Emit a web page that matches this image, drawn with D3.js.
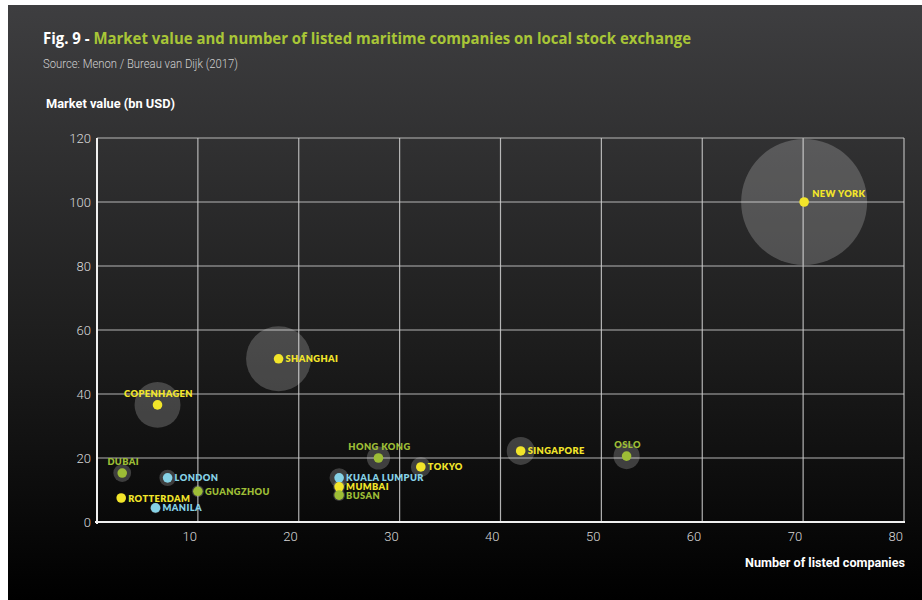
<!DOCTYPE html>
<html><head><meta charset="utf-8">
<script src="https://cdn.jsdelivr.net/npm/d3@7/dist/d3.min.js"></script>
<style>
html,body{margin:0;padding:0;background:#fff;}
svg{display:block;}
</style></head>
<body>
<svg id="chart" width="922" height="600"></svg>
<script>
// ---- data ----
const cities = ["NEW YORK","SHANGHAI","COPENHAGEN","DUBAI","LONDON","GUANGZHOU","ROTTERDAM","MANILA","HONG KONG","TOKYO","KUALA LUMPUR","MUMBAI","BUSAN","SINGAPORE","OSLO"];
const listedCompanies = [70.1, 18, 6, 2.5, 7, 10, 2.4, 5.8, 27.9, 32.1, 24, 24, 24, 42, 52.5];
const marketValue = [100, 51, 36.6, 15.3, 13.8, 9.6, 7.5, 4.4, 20, 17.2, 13.8, 11, 8.4, 22.2, 20.6];
const bubbleSize = [100, 26.6, 13.3, 2.0, 1.7, 0.9, 0.4, 0.7, 3.4, 2.5, 2.3, 0.9, 0.9, 4.9, 4.3];
const group = ["y","y","y","g","b","g","y","b","g","y","b","y","g","y","g"];
const xTicks = [10,20,30,40,50,60,70,80];
const yTicks = [0,20,40,60,80,100,120];

// ---- style ----
const colors = {y:"#f2e52a", g:"#9dbd36", b:"#86d2e6"};
const labelPlace = {"NEW YORK":"rightUp","COPENHAGEN":"above","DUBAI":"above","HONG KONG":"above","OSLO":"above"};

const svg = d3.select("#chart");
const defs = svg.append("defs");
const grad = defs.append("linearGradient").attr("id","bg").attr("x1",0).attr("y1",0).attr("x2",0).attr("y2",1);
grad.append("stop").attr("offset","0%").attr("stop-color","#3e3e40");
grad.append("stop").attr("offset","55%").attr("stop-color","#1e1e1e");
grad.append("stop").attr("offset","100%").attr("stop-color","#000000");
svg.append("rect").attr("x",8).attr("y",5).attr("width",914).attr("height",595).attr("fill","url(#bg)");

const x = d3.scaleLinear().domain([0,80]).range([97,904]);
const y = d3.scaleLinear().domain([0,120]).range([522,138]);
const r = d3.scaleSqrt().domain([0,100]).range([0,63]);

const narrow = "Roboto, 'Open Sans', sans-serif";
// title
const t = svg.append("text").attr("x",43).attr("y",44).attr("font-family","'Open Sans', sans-serif").attr("font-weight",700).attr("font-size",15.5)
  .attr("textLength",648).attr("lengthAdjust","spacingAndGlyphs");
t.append("tspan").attr("fill","#ffffff").text("Fig. 9 - ");
t.append("tspan").attr("fill","#a9c637").text("Market value and number of listed maritime companies on local stock exchange");
svg.append("text").attr("x",43).attr("y",68).attr("fill","#d0d0d0").attr("font-family",narrow).attr("font-weight",300).attr("font-size",12.5)
  .attr("textLength",195).attr("lengthAdjust","spacingAndGlyphs").text("Source: Menon / Bureau van Dijk (2017)");
svg.append("text").attr("x",46).attr("y",108).attr("fill","#ffffff").attr("font-family",narrow).attr("font-weight",700).attr("font-size",12.5)
  .attr("textLength",129).attr("lengthAdjust","spacingAndGlyphs").text("Market value (bn USD)");

// grid
const grid = svg.append("g");
grid.selectAll("line.v").data(xTicks).join("line").attr("x1",d=>x(d)).attr("x2",d=>x(d)).attr("y1",y(120)).attr("y2",y(0)).attr("stroke","#cfcfcf").attr("stroke-width",1.2).attr("stroke-opacity",0.85);
grid.selectAll("line.h").data(yTicks.filter(d=>d>0)).join("line").attr("x1",x(0)).attr("x2",x(80)).attr("y1",d=>y(d)).attr("y2",d=>y(d)).attr("stroke","#cfcfcf").attr("stroke-width",1.2).attr("stroke-opacity",0.85);
// axes lines
svg.append("line").attr("x1",x(0)-2).attr("x2",x(80)+1).attr("y1",y(0)).attr("y2",y(0)).attr("stroke","#f0f0f0").attr("stroke-width",2);
svg.append("line").attr("x1",x(0)).attr("x2",x(0)).attr("y1",y(120)).attr("y2",y(0)+2).attr("stroke","#f0f0f0").attr("stroke-width",2);

// tick labels
svg.append("g").selectAll("text").data(yTicks).join("text").attr("x",91).attr("y",d=>y(d)+4.5).attr("text-anchor","end").attr("fill","#d8d8d8").attr("font-family",narrow).attr("font-weight",300).attr("font-size",13).text(d=>d);
svg.append("g").selectAll("text").data(xTicks).join("text").attr("x",d=>x(d)-1).attr("y",541).attr("text-anchor","end").attr("fill","#d8d8d8").attr("font-family",narrow).attr("font-weight",300).attr("font-size",13).text(d=>d);
svg.append("text").attr("x",905).attr("y",567).attr("text-anchor","end").attr("fill","#ffffff").attr("font-family",narrow).attr("font-weight",700).attr("font-size",13)
  .attr("textLength",160).attr("lengthAdjust","spacingAndGlyphs").text("Number of listed companies");

// data
const data = cities.map((c,i)=>({c, x:listedCompanies[i], y:marketValue[i], s:bubbleSize[i], g:group[i]}));
svg.append("g").selectAll("circle").data(data).join("circle")
  .attr("cx",d=>x(d.x)).attr("cy",d=>y(d.y)).attr("r",d=>r(d.s)).attr("fill","#ffffff").attr("fill-opacity",0.2);
svg.append("g").selectAll("circle").data(data).join("circle")
  .attr("cx",d=>x(d.x)).attr("cy",d=>y(d.y)).attr("r",4.8).attr("fill",d=>colors[d.g]);
svg.append("g").selectAll("text").data(data).join("text")
  .attr("font-family","Lato, 'Open Sans', sans-serif").attr("font-weight",800).attr("font-size",9.3).attr("letter-spacing",0.4)
  .attr("fill",d=>colors[d.g])
  .each(function(d){
    const p = labelPlace[d.c] || "right";
    const s = d3.select(this);
    if(p==="above"){ s.attr("x",x(d.x)+1).attr("y",y(d.y)-8).attr("text-anchor","middle"); }
    else if(p==="rightUp"){ s.attr("x",x(d.x)+8).attr("y",y(d.y)-5).attr("text-anchor","start"); }
    else { s.attr("x",x(d.x)+7).attr("y",y(d.y)+3.5).attr("text-anchor","start"); }
  })
  .text(d=>d.c);
</script>
</body></html>
